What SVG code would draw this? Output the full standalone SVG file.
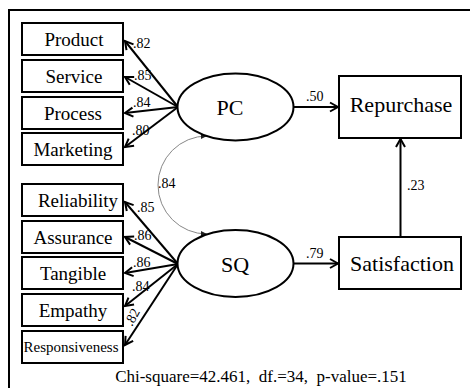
<svg xmlns="http://www.w3.org/2000/svg" width="470" height="388" viewBox="0 0 470 388">
<style>
.box{fill:#fff;stroke:#000;stroke-width:2}
.ell{fill:#fff;stroke:#000;stroke-width:2}
.t{font-family:"Liberation Serif","Times New Roman",serif;fill:#000;text-anchor:middle}
.ind{font-size:19px}
.lat{font-size:22px}
.out{font-size:22px}
.lbl{font-family:"Liberation Serif","Times New Roman",serif;font-size:14px;fill:#000}
.arr{stroke:#000;stroke-width:2;fill:none;marker-end:url(#ah)}
.cov{stroke:#888;stroke-width:1;fill:none;marker-start:url(#ahs);marker-end:url(#ahs)}
</style>
<defs>
<marker id="ah" viewBox="-10 -6 12 12" refX="0" refY="0" markerWidth="12" markerHeight="12" markerUnits="userSpaceOnUse" orient="auto">
<path d="M-8,-4.5 L0,0 L-8,4.5" fill="none" stroke="#000" stroke-width="2"/>
</marker>
<marker id="ahs" viewBox="-8 -5 10 10" refX="0" refY="0" markerWidth="10" markerHeight="10" markerUnits="userSpaceOnUse" orient="auto-start-reverse">
<path d="M-6,-3 L0,0 L-6,3 Z" fill="#222" stroke="none"/>
</marker>
</defs>
<rect width="470" height="388" fill="#fff"/>
<rect x="9" y="10" width="480" height="400" fill="none" stroke="#000" stroke-width="2"/>

<g id="connectors">
<path class="arr" d="M178,107 L125,41"/>
<path class="arr" d="M178,107 L125,77"/>
<path class="arr" d="M178,107 L125,113"/>
<path class="arr" d="M178,107 L125,147"/>
<path class="arr" d="M178,264 L125,202"/>
<path class="arr" d="M178,264 L125,237"/>
<path class="arr" d="M178,264 L125,273"/>
<path class="arr" d="M178,264 L125,306"/>
<path class="arr" d="M178,264 L125,345"/>
<path class="arr" d="M293,107 L338,107"/>
<path class="arr" d="M293,263.5 L338,263.5"/>
<path class="arr" d="M400.5,237 L400.5,139"/>
<path class="cov" d="M207,136 A49,49 0 0 0 207,234"/>
<text class="lbl" x="133" y="48">.82</text>
<text class="lbl" x="134" y="80">.85</text>
<text class="lbl" x="133" y="107">.84</text>
<text class="lbl" x="132" y="135">.80</text>
<text class="lbl" x="137" y="212">.85</text>
<text class="lbl" x="134" y="240">.86</text>
<text class="lbl" x="133" y="267">.86</text>
<text class="lbl" x="132" y="291">.84</text>
<text class="lbl" transform="translate(132,327) rotate(-62)" x="0" y="0">.82</text>
<text class="lbl" x="158" y="188">.84</text>
<text class="lbl" x="306" y="101">.50</text>
<text class="lbl" x="306" y="258">.79</text>
<text class="lbl" x="407" y="190">.23</text>
</g>

<g id="product"><rect class="box" x="22" y="23" width="101" height="32"/><text class="t ind" x="74" y="46">Product</text></g>
<g id="service"><rect class="box" x="22" y="60" width="101" height="32"/><text class="t ind" x="74" y="83">Service</text></g>
<g id="process"><rect class="box" x="22" y="97" width="101" height="32"/><text class="t ind" x="73" y="120">Process</text></g>
<g id="marketing"><rect class="box" x="22" y="133" width="101" height="32"/><text class="t ind" x="73" y="156">Marketing</text></g>

<g id="reliability"><rect class="box" x="22" y="184" width="101" height="32"/><text class="t ind" x="78" y="207">Reliability</text></g>
<g id="assurance"><rect class="box" x="22" y="221" width="101" height="32"/><text class="t ind" x="73" y="244">Assurance</text></g>
<g id="tangible"><rect class="box" x="22" y="257" width="101" height="32"/><text class="t ind" x="73" y="280">Tangible</text></g>
<g id="empathy"><rect class="box" x="22" y="294" width="101" height="32"/><text class="t ind" x="73" y="317">Empathy</text></g>
<g id="responsiveness"><rect class="box" x="22" y="331" width="101" height="32"/><text class="t" style="font-size:15px" x="71" y="352">Responsiveness</text></g>

<g id="pc"><ellipse class="ell" cx="235.5" cy="107" rx="58" ry="33.5"/><text class="t lat" x="230" y="115">PC</text></g>
<g id="sq"><ellipse class="ell" cx="235.5" cy="263.5" rx="58" ry="33.5"/><text class="t lat" x="235" y="272">SQ</text></g>

<g id="repurchase"><rect class="box" x="339" y="76" width="122" height="62"/><text class="t out" x="401" y="112">Repurchase</text></g>
<g id="satisfaction"><rect class="box" x="339" y="237" width="122" height="52"/><text class="t out" x="402" y="271">Satisfaction</text></g>

<text class="t" style="font-size:17px" x="261" y="382" xml:space="preserve">Chi-square=42.461,  df.=34,  p-value=.151</text>
</svg>
